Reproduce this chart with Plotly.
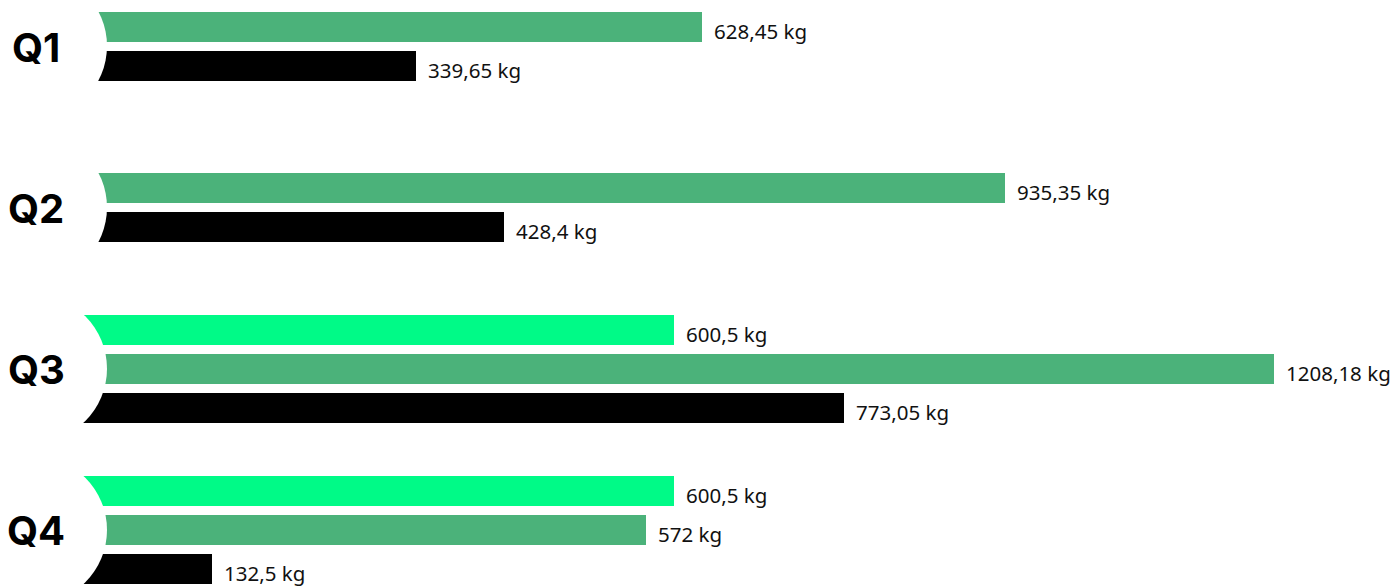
import plotly.graph_objects as go

quarters = ["Q1", "Q2", "Q3", "Q4"]
series_names = ["Ziel", "Ist", "Vorjahr"]
series_colors = ["#00FA87", "#4BB27A", "#000000"]
# values per series per quarter (None = not present)
ziel = [None, None, 600.5, 600.5]
ist = [628.45, 935.35, 1208.18, 572]
vorjahr = [339.65, 428.4, 773.05, 132.5]
series_values = [ziel, ist, vorjahr]

W, H = 1395, 586
px_per_unit = 0.9874
zero_px = 81
group_pitch_px = 161.33
first_center_px = 46
bar_px = 30
slot_px = 39
circle_x_px = 33

y0 = -first_center_px / group_pitch_px
y1 = (H - first_center_px) / group_pitch_px
bar_w = bar_px / group_pitch_px
slot = slot_px / group_pitch_px
circle_x = (circle_x_px - zero_px) / px_per_unit

def fmt(v):
    s = ("%.2f" % v).rstrip("0").rstrip(".")
    return s.replace(".", ",") + " kg"

fig = go.Figure()
annotations = []
for si, (name, color, vals) in enumerate(zip(series_names, series_colors, series_values)):
    xs, ys = [], []
    for gi, q in enumerate(quarters):
        present = [k for k in range(len(series_values)) if series_values[k][gi] is not None]
        if vals[gi] is None:
            continue
        n = len(present)
        idx = present.index(si)
        ypos = gi + (idx - (n - 1) / 2) * slot
        xs.append(vals[gi])
        ys.append(ypos)
        annotations.append(dict(x=vals[gi], y=ypos, xref="x", yref="y", text=fmt(vals[gi]),
                                showarrow=False, xanchor="left", yanchor="middle", xshift=10, yshift=-4,
                                font=dict(family="Noto Sans", size=20.5, color="#111111")))
    fig.add_trace(go.Bar(x=xs, y=ys, orientation="h", width=bar_w, name=name,
                         marker=dict(color=color, line=dict(width=0)), hoverinfo="x"))

shapes = []
for gi, q in enumerate(quarters):
    shapes.append(dict(type="circle", xref="x", yref="y", xsizemode="pixel", ysizemode="pixel",
                       xanchor=circle_x, yanchor=gi, x0=-74, x1=74, y0=-74, y1=74,
                       fillcolor="white", line=dict(width=0), layer="above"))
    annotations.append(dict(x=circle_x, y=gi, xref="x", yref="y", text="<b>" + q + "</b>",
                            showarrow=False, xanchor="center", yanchor="middle", xshift=3, yshift=-1,
                            font=dict(family="Inter", size=40, color="#000000", weight=900)))

fig.update_layout(
    width=W, height=H, margin=dict(l=0, r=0, t=0, b=0),
    paper_bgcolor="white", plot_bgcolor="white", showlegend=False,
    xaxis=dict(range=[-zero_px / px_per_unit, (W - zero_px) / px_per_unit], visible=False, fixedrange=True),
    yaxis=dict(range=[y1, y0], visible=False, fixedrange=True),
    shapes=shapes, annotations=annotations, bargap=0,
)
fig.write_html("out.html", config={"displayModeBar": False},
               post_script="document.body.style.margin='0px';document.body.style.overflow='hidden';")
